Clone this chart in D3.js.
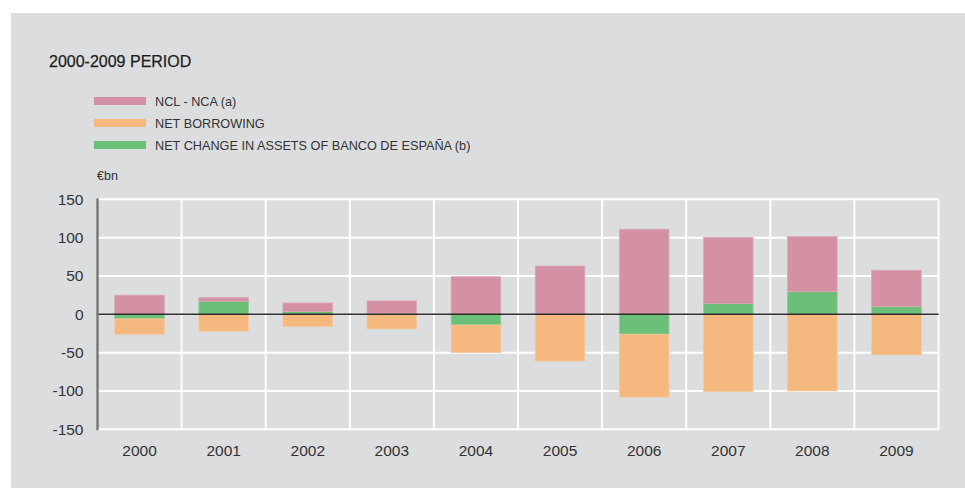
<!DOCTYPE html>
<html>
<head>
<meta charset="utf-8">
<script src="https://cdn.jsdelivr.net/npm/d3@7"></script>
<style>
  html, body { margin: 0; padding: 0; background: #ffffff; }
  svg { display: block; font-family: "Liberation Sans", Arial, Helvetica, sans-serif; }
</style>
</head>
<body>
<svg id="chart" width="965" height="488"></svg>
<script>
// Sources of financing, 2000-2009 (€bn)
const years = ["2000", "2001", "2002", "2003", "2004", "2005", "2006", "2007", "2008", "2009"];
const nclNca = [25, 5, 11.3, 16.5, 49, 63, 111, 86.5, 72, 47.5];
const netBorrowing = [-20, -22, -16, -19, -36, -61, -82, -101, -100, -53];
const bdeAssets = [-6, 17, 3.5, 1, -14, 0, -26, 14, 29.5, 10];
const yTicks = [-150, -100, -50, 0, 50, 100, 150];

const seriesNames = {
  ncl: "NCL - NCA (a)",
  nb: "NET BORROWING",
  bde: "NET CHANGE IN ASSETS OF BANCO DE ESPAÑA (b)"
};
const colors = { ncl: "#d491a4", nb: "#f5b87e", bde: "#6bbf76" };
const strokes = { ncl: "#dbaab8", nb: "#f3c9a0", bde: "#93cc9b" };

const svg = d3.select("#chart");

// panel background
svg.append("rect").attr("x", 11).attr("y", 13).attr("width", 954).attr("height", 475).attr("fill", "#dcdddf");

// title
svg.append("text").attr("x", 49).attr("y", 67).attr("font-size", 16).attr("fill", "#1e1e1e")
  .attr("stroke", "#1e1e1e").attr("stroke-width", 0.25)
  .text("2000-2009 PERIOD");

// legend
const legendOrder = ["ncl", "nb", "bde"];
const legend = svg.append("g");
legendOrder.forEach((k, i) => {
  const y = 97 + i * 22;
  legend.append("rect").attr("x", 94).attr("y", y).attr("width", 52).attr("height", 8).attr("fill", colors[k]);
  legend.append("text").attr("x", 155).attr("y", y + 8.5).attr("font-size", 12.7).attr("fill", "#333")
    .text(seriesNames[k]);
});

// unit label
svg.append("text").attr("x", 97).attr("y", 180).attr("font-size", 12.5).attr("fill", "#333").text("€bn");

// scales
const x = d3.scaleBand().domain(years).range([97.5, 938.5]).paddingInner(0.41).paddingOuter(0.205);
const xb = d3.scaleBand().domain(years).range([97.5, 938.5]);
const y = d3.scaleLinear().domain([-150, 150]).range([429.3, 199.3]);

// grid
const grid = svg.append("g");
grid.selectAll("line.h").data(yTicks).join("line")
  .attr("x1", 97.5).attr("x2", 938.5)
  .attr("y1", d => y(d)).attr("y2", d => y(d))
  .attr("stroke", "#ffffff").attr("stroke-width", 2);
grid.selectAll("line.v").data(years.slice(1).concat(["end"])).join("line")
  .attr("x1", (d, i) => i < years.length - 1 ? xb(d) : 938.5)
  .attr("x2", (d, i) => i < years.length - 1 ? xb(d) : 938.5)
  .attr("y1", y(150)).attr("y2", y(-150))
  .attr("stroke", "#ffffff").attr("stroke-width", 2);

// stacked data
const table = years.map((yr, i) => ({ year: yr, bde: bdeAssets[i], ncl: nclNca[i], nb: netBorrowing[i] }));
const stack = d3.stack().keys(["bde", "ncl", "nb"]).offset(d3.stackOffsetDiverging);
const layers = stack(table);

const barsG = svg.append("g");
layers.forEach(layer => {
  barsG.append("g").selectAll("rect").data(layer).join("rect")
    .attr("x", d => x(d.data.year))
    .attr("width", x.bandwidth())
    .attr("y", d => y(Math.max(d[0], d[1])))
    .attr("height", d => Math.abs(y(d[0]) - y(d[1])))
    .attr("fill", colors[layer.key])
    .attr("stroke", strokes[layer.key])
    .attr("stroke-width", d => Math.abs(d[1] - d[0]) > 0.5 ? 0.8 : 0);
});

// zero line
svg.append("line").attr("x1", 97.5).attr("x2", 938.5).attr("y1", y(0)).attr("y2", y(0))
  .attr("stroke", "#2b2b2b").attr("stroke-width", 1.5);

// y axis (plain hyphen for negatives)
const yAxis = d3.axisLeft(y).tickValues(yTicks).tickFormat(d => String(d)).tickSize(0).tickPadding(14);
const yg = svg.append("g").attr("transform", "translate(97.5,0)").call(yAxis);
yg.select(".domain").remove();
yg.selectAll("text").attr("font-size", 15.5).attr("fill", "#333").attr("font-family", "Liberation Sans, Arial, sans-serif");
svg.append("line").attr("x1", 97.5).attr("x2", 97.5).attr("y1", y(150) - 1).attr("y2", y(-150) + 1)
  .attr("stroke", "#727272").attr("stroke-width", 2.3);

// x axis labels
const xAxis = d3.axisBottom(xb).tickSize(0).tickPadding(0);
const xg = svg.append("g").attr("transform", "translate(0,445)").call(xAxis);
xg.select(".domain").remove();
xg.selectAll("text").attr("font-size", 15.5).attr("fill", "#333").attr("font-family", "Liberation Sans, Arial, sans-serif");
</script>
</body>
</html>
